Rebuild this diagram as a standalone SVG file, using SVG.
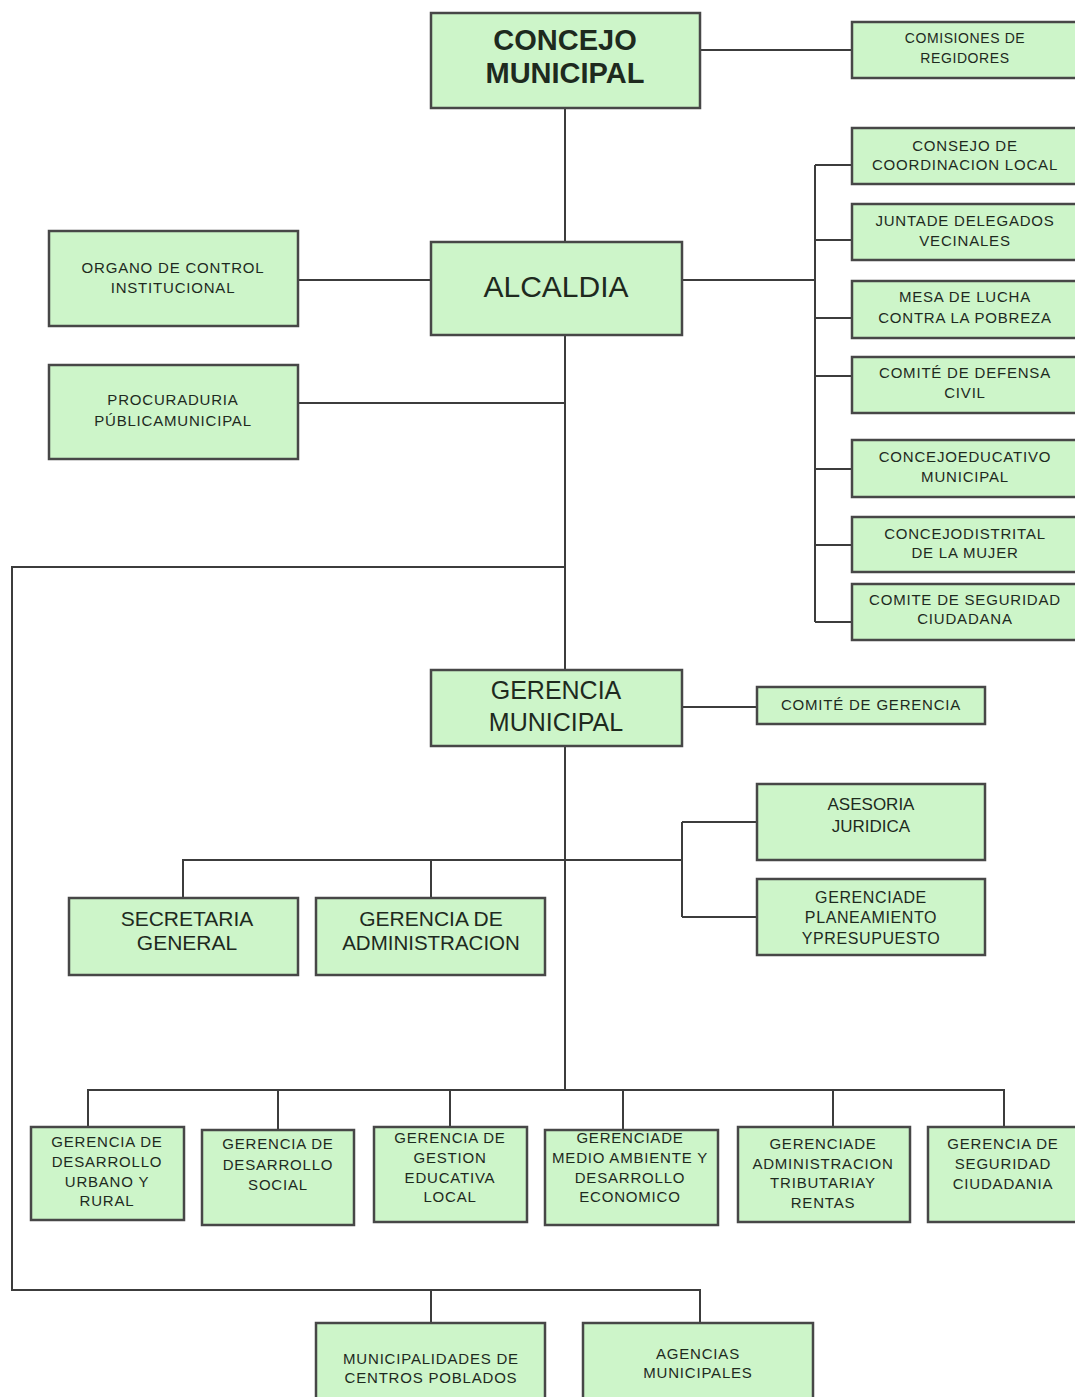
<svg xmlns="http://www.w3.org/2000/svg" width="1075" height="1397" viewBox="0 0 1075 1397">
<style>
.box{fill:#cdf5c9;stroke:#474747;stroke-width:2.5}
.t{font-family:"Liberation Sans",Arial,sans-serif;fill:#1e2a1e;text-anchor:middle}
.s{font-size:15px;letter-spacing:0.8px}
.xs{font-size:14px;letter-spacing:0.6px}
.c{fill:none;stroke:#3c3c3c;stroke-width:2}
</style>
<rect width="1075" height="1397" fill="#ffffff"/>
<g id="connectors">
<path class="c" d="M700,50 H852"/>
<path class="c" d="M565,108 V242"/>
<path class="c" d="M298,280 H431"/>
<path class="c" d="M682,280 H815"/>
<path class="c" d="M815,165 V622"/>
<path class="c" d="M815,165 H852 M815,240 H852 M815,318 H852 M815,376 H852 M815,469 H852 M815,545 H852 M815,622 H852"/>
<path class="c" d="M298,403 H565"/>
<path class="c" d="M565,335 V670"/>
<path class="c" d="M565,567 H12 V1290 H700 V1323"/>
<path class="c" d="M431,1290 V1323"/>
<path class="c" d="M682,707 H757"/>
<path class="c" d="M565,746 V1090"/>
<path class="c" d="M183,898 V860 H682"/>
<path class="c" d="M431,860 V898"/>
<path class="c" d="M682,822 V917 M682,822 H757 M682,917 H757"/>
<path class="c" d="M88,1127 V1090 H1004 V1127"/>
<path class="c" d="M278,1090 V1130 M450,1090 V1127 M623,1090 V1130 M833,1090 V1127"/>
</g>
<g id="concejo-municipal">
<rect class="box" x="431" y="13" width="269" height="95"/>
<text class="t" x="565" y="50" font-size="29" font-weight="bold">CONCEJO</text>
<text class="t" x="565" y="83" font-size="29" font-weight="bold">MUNICIPAL</text>
</g>
<g id="comisiones-regidores">
<rect class="box" x="852" y="22" width="226" height="56"/>
<text class="t xs" x="965" y="43">COMISIONES DE</text>
<text class="t xs" x="965" y="63">REGIDORES</text>
</g>
<g id="alcaldia">
<rect class="box" x="431" y="242" width="251" height="93"/>
<text class="t" x="556" y="297" font-size="30">ALCALDIA</text>
</g>
<g id="organo-control">
<rect class="box" x="49" y="231" width="249" height="95"/>
<text class="t s" x="173" y="273">ORGANO DE CONTROL</text>
<text class="t s" x="173" y="293">INSTITUCIONAL</text>
</g>
<g id="procuraduria">
<rect class="box" x="49" y="365" width="249" height="94"/>
<text class="t s" x="173" y="405">PROCURADURIA</text>
<text class="t s" x="173" y="426">PÚBLICAMUNICIPAL</text>
</g>
<g id="consejo-coordinacion">
<rect class="box" x="852" y="128" width="226" height="56"/>
<text class="t s" x="965" y="151">CONSEJO DE</text>
<text class="t s" x="965" y="170">COORDINACION LOCAL</text>
</g>
<g id="junta-delegados">
<rect class="box" x="852" y="204" width="226" height="56"/>
<text class="t s" x="965" y="226">JUNTADE DELEGADOS</text>
<text class="t s" x="965" y="246">VECINALES</text>
</g>
<g id="mesa-lucha">
<rect class="box" x="852" y="281" width="226" height="57"/>
<text class="t s" x="965" y="302">MESA DE LUCHA</text>
<text class="t s" x="965" y="323">CONTRA LA POBREZA</text>
</g>
<g id="defensa-civil">
<rect class="box" x="852" y="357" width="226" height="56"/>
<text class="t s" x="965" y="378">COMITÉ DE DEFENSA</text>
<text class="t s" x="965" y="398">CIVIL</text>
</g>
<g id="concejo-educativo">
<rect class="box" x="852" y="440" width="226" height="57"/>
<text class="t s" x="965" y="462">CONCEJOEDUCATIVO</text>
<text class="t s" x="965" y="482">MUNICIPAL</text>
</g>
<g id="concejo-mujer">
<rect class="box" x="852" y="517" width="226" height="55"/>
<text class="t s" x="965" y="539">CONCEJODISTRITAL</text>
<text class="t s" x="965" y="558">DE LA MUJER</text>
</g>
<g id="comite-seguridad">
<rect class="box" x="852" y="584" width="226" height="56"/>
<text class="t s" x="965" y="605">COMITE DE SEGURIDAD</text>
<text class="t s" x="965" y="624">CIUDADANA</text>
</g>
<g id="gerencia-municipal">
<rect class="box" x="431" y="670" width="251" height="76"/>
<text class="t" x="556" y="699" font-size="25">GERENCIA</text>
<text class="t" x="556" y="731" font-size="25">MUNICIPAL</text>
</g>
<g id="comite-gerencia">
<rect class="box" x="757" y="687" width="228" height="37"/>
<text class="t s" x="871" y="710">COMITÉ DE GERENCIA</text>
</g>
<g id="asesoria-juridica">
<rect class="box" x="757" y="784" width="228" height="76"/>
<text class="t" x="871" y="810" font-size="17">ASESORIA</text>
<text class="t" x="871" y="832" font-size="17">JURIDICA</text>
</g>
<g id="planeamiento">
<rect class="box" x="757" y="879" width="228" height="76"/>
<text class="t" x="871" y="903" font-size="16" letter-spacing="0.6">GERENCIADE</text>
<text class="t" x="871" y="923" font-size="16" letter-spacing="0.6">PLANEAMIENTO</text>
<text class="t" x="871" y="944" font-size="16" letter-spacing="0.6">YPRESUPUESTO</text>
</g>
<g id="secretaria-general">
<rect class="box" x="69" y="898" width="229" height="77"/>
<text class="t" x="187" y="926" font-size="21">SECRETARIA</text>
<text class="t" x="187" y="950" font-size="21">GENERAL</text>
</g>
<g id="gerencia-administracion">
<rect class="box" x="316" y="898" width="229" height="77"/>
<text class="t" x="431" y="926" font-size="21">GERENCIA DE</text>
<text class="t" x="431" y="950" font-size="20.5">ADMINISTRACION</text>
</g>
<g id="desarrollo-urbano">
<rect class="box" x="31" y="1127" width="153" height="93"/>
<text class="t s" x="107" y="1147">GERENCIA DE</text>
<text class="t s" x="107" y="1167">DESARROLLO</text>
<text class="t s" x="107" y="1187">URBANO Y</text>
<text class="t s" x="107" y="1206">RURAL</text>
</g>
<g id="desarrollo-social">
<rect class="box" x="202" y="1130" width="152" height="95"/>
<text class="t s" x="278" y="1149">GERENCIA DE</text>
<text class="t s" x="278" y="1170">DESARROLLO</text>
<text class="t s" x="278" y="1190">SOCIAL</text>
</g>
<g id="gestion-educativa">
<rect class="box" x="374" y="1127" width="153" height="95"/>
<text class="t s" x="450" y="1143">GERENCIA DE</text>
<text class="t s" x="450" y="1163">GESTION</text>
<text class="t s" x="450" y="1183">EDUCATIVA</text>
<text class="t s" x="450" y="1202">LOCAL</text>
</g>
<g id="medio-ambiente">
<rect class="box" x="545" y="1130" width="173" height="95"/>
<text class="t s" x="630" y="1143">GERENCIADE</text>
<text class="t s" x="630" y="1163">MEDIO AMBIENTE Y</text>
<text class="t s" x="630" y="1183">DESARROLLO</text>
<text class="t s" x="630" y="1202">ECONOMICO</text>
</g>
<g id="administracion-tributaria">
<rect class="box" x="738" y="1127" width="172" height="95"/>
<text class="t s" x="823" y="1149">GERENCIADE</text>
<text class="t s" x="823" y="1169">ADMINISTRACION</text>
<text class="t s" x="823" y="1188">TRIBUTARIAY</text>
<text class="t s" x="823" y="1208">RENTAS</text>
</g>
<g id="seguridad-ciudadana">
<rect class="box" x="928" y="1127" width="150" height="95"/>
<text class="t s" x="1003" y="1149">GERENCIA DE</text>
<text class="t s" x="1003" y="1169">SEGURIDAD</text>
<text class="t s" x="1003" y="1189">CIUDADANIA</text>
</g>
<g id="centros-poblados">
<rect class="box" x="316" y="1323" width="229" height="80"/>
<text class="t s" x="431" y="1364">MUNICIPALIDADES DE</text>
<text class="t s" x="431" y="1383">CENTROS POBLADOS</text>
</g>
<g id="agencias-municipales">
<rect class="box" x="583" y="1323" width="230" height="80"/>
<text class="t s" x="698" y="1359">AGENCIAS</text>
<text class="t s" x="698" y="1378">MUNICIPALES</text>
</g>
</svg>
